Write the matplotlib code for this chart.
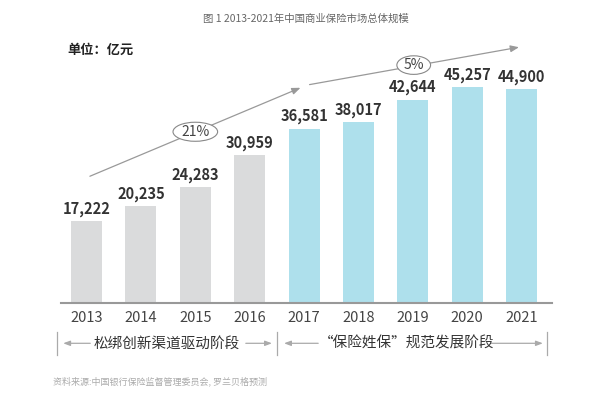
import matplotlib
matplotlib.use("Agg")
import matplotlib.pyplot as plt
from matplotlib.patches import Ellipse

plt.rcParams['font.family'] = ['Noto Sans CJK SC', 'DejaVu Sans']

years = ["2013", "2014", "2015", "2016", "2017", "2018", "2019", "2020", "2021"]
values = [17222, 20235, 24283, 30959, 36581, 38017, 42644, 45257, 44900]
phase1_count = 4
growth_labels = ["21%", "5%"]
phase_labels = ["松绑创新渠道驱动阶段", "“保险姓保”规范发展阶段"]
title = "图 1 2013-2021年中国商业保险市场总体规模"
unit_label = "单位：亿元"
source = "资料来源:中国银行保险监督管理委员会, 罗兰贝格预测"

GRAY = "#dadbdc"
BLUE = "#aee0ec"
LINE = "#999999"

fig = plt.figure(figsize=(6.0, 3.95), dpi=100)
ax = fig.add_axes([61/600, 1 - 302.7/395, 491/600, 285.7/395])

x = list(range(len(years)))
colors = [GRAY if i < phase1_count else BLUE for i in x]
bars = ax.bar(x, values, width=0.57, color=colors, zorder=2)
for xi, v in zip(x, values):
    ax.annotate(f"{v:,}", (xi, v), xytext=(0, 3), textcoords="offset points",
                ha="center", va="bottom", fontsize=10.5, fontweight="bold", color="#333333")

ax.set_xlim(-0.469, 8.557)
ax.set_ylim(0, 60000)
ax.set_xticks(x)
ax.set_xticklabels(years, fontsize=10.5, color="#444444")
ax.tick_params(axis="x", length=0, pad=6)
ax.set_yticks([])
for s in ["top", "right", "left"]:
    ax.spines[s].set_visible(False)
ax.spines["bottom"].set_color("#999999")
ax.spines["bottom"].set_linewidth(1.5)

# growth trend arrows
arrow_kw = dict(arrowstyle="-|>,head_length=0.5,head_width=0.2", color=LINE, lw=0.9)
ax.annotate("", xy=(3.98, 45360), xytext=(0.015, 26330), arrowprops=arrow_kw, annotation_clip=False)
ax.annotate("", xy=(8.0, 53760), xytext=(4.05, 45700), arrowprops=arrow_kw, annotation_clip=False)
for (cx, cy, w, h, lab) in [(2.0, 35900, 0.82, 4000, growth_labels[0]),
                            (6.015, 49900, 0.62, 3900, growth_labels[1])]:
    ax.add_patch(Ellipse((cx, cy), w, h, fc="white", ec="#888888", lw=0.8, zorder=4, clip_on=False))
    ax.text(cx, cy, lab, ha="center", va="center", fontsize=10, color="#444444", zorder=5)

# phase brackets
yb0, yb1, ya = -6090, -10920, -8526
for xv in [-0.537, 3.496, 8.465]:
    ax.plot([xv, xv], [yb0, yb1], color="#aaaaaa", lw=0.9, clip_on=False)
seg_kw = dict(arrowstyle="-|>,head_length=0.4,head_width=0.15", color="#aaaaaa", lw=0.9)
for (xa, xb) in [(0.12, -0.48), (2.877, 3.46), (4.31, 3.58), (7.38, 8.44)]:
    ax.annotate("", xy=(xb, ya), xytext=(xa, ya), arrowprops=seg_kw, annotation_clip=False)
ax.text(1.48, ya, phase_labels[0], ha="center", va="center", fontsize=10.5, color="#333333")
ax.text(5.89, ya, phase_labels[1], ha="center", va="center", fontsize=10.5, color="#333333")

fig.text(0.51, 1 - 18.5/395, title, ha="center", va="center", fontsize=7.5, color="#666666")
fig.text(67/600, 1 - 50/395, unit_label, ha="left", va="center", fontsize=9.5, fontweight="bold", color="#222222")
fig.text(53/600, 1 - 381/395, source, ha="left", va="center", fontsize=6.5, color="#aaaaaa")

fig.savefig("out.png", dpi=100, facecolor="white")
